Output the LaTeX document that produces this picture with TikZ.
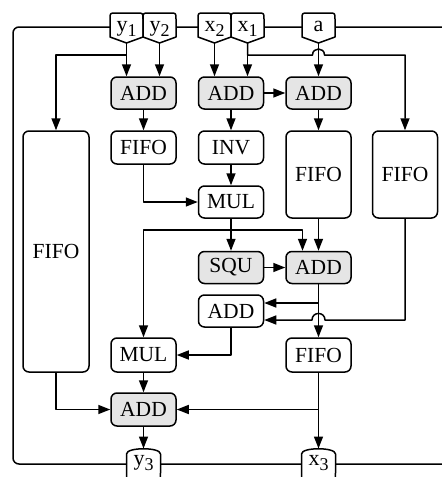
\documentclass[tikz,border=0pt]{standalone}
\usepackage{fontspec}
\setmainfont{Liberation Serif}
\usepackage{tikz}
\usetikzlibrary{arrows.meta,calc}
\tikzset{
  wire/.style={line width=1.5pt,line join=round},
  arr/.style={wire,-{Triangle[length=12pt,width=9pt]}},
  blk/.style={rectangle,rounded corners=6pt,draw,line width=1.5pt,
    minimum width=65pt,minimum height=32pt,inner sep=0pt,
    font=\fontsize{21.5}{23}\selectfont},
  opblk/.style={blk,fill=gray!20},
  plbl/.style={inner sep=0pt,anchor=base,font=\fontsize{22}{24}\selectfont},
}
\newcommand\portsub[1]{\raisebox{-5.5pt}{\fontsize{18}{18}\selectfont #1}}
% input port on the top edge: name, x, label
\newcommand\portin[3]{%
  \draw[wire,fill=white] (#2,43) -- (#2-16.5,37) -- (#2-16.5,19)
    .. controls (#2-16.5,13) .. (#2-10.5,13) -- (#2+10.5,13)
    .. controls (#2+16.5,13) .. (#2+16.5,19) -- (#2+16.5,37) -- cycle;
  \node[plbl] (#1-t) at (#2,31) {#3};
  \coordinate (#1) at (#2,43);}
% output port on the bottom edge: name, x, label
\newcommand\portout[3]{%
  \draw[wire,fill=white] (#2-13,480) .. controls (#2-17,479) .. (#2-17,473)
    -- (#2-17,454) .. controls (#2-17,447) and (#2+17,447) .. (#2+17,454)
    -- (#2+17,473) .. controls (#2+17,479) .. (#2+13,480);
  \node[plbl] (#1-t) at (#2,465) {#3};
  \coordinate (#1) at (#2,448.5);}

\begin{document}
\begin{tikzpicture}[x=1pt,y=-1pt]
\useasboundingbox (0,0) rectangle (442,477);

% frame
\draw[wire,rounded corners=6pt] (452,27) -- (13,27) -- (13,464) -- (452,464);

% ports
\portin{y1}{126.5}{y\portsub{1}}
\portin{y2}{159.5}{y\portsub{2}}
\portin{x2}{214.5}{x\portsub{2}}
\portin{x1}{247.5}{x\portsub{1}}
\portin{a}{318.5}{a}
\portout{y3}{143.5}{y\portsub{3}}
\portout{x3}{318.5}{x\portsub{3}}

% blocks
\node[opblk] (add1) at (143.5,93) {ADD};
\node[opblk] (add2) at (231,93) {ADD};
\node[opblk] (add3) at (318.5,93) {ADD};
\node[blk,minimum width=66pt,minimum height=241pt] (fifoL) at (56,251.5) {FIFO};
\node[blk,minimum height=33pt] (fifo1) at (143.5,147.5) {FIFO};
\node[blk,minimum height=33pt] (inv) at (231,147.5) {INV};
\node[blk,minimum height=87pt] (fifo3) at (318.5,174.5) {FIFO};
\node[blk,minimum height=87pt] (fifo4) at (405,174.5) {FIFO};
\node[blk] (mul1) at (231,202) {MUL};
\node[opblk] (squ) at (231,267.5) {SQU};
\node[opblk] (add4) at (318.5,267.5) {ADD};
\node[blk] (add5) at (231,311) {ADD};
\node[blk,minimum height=34pt] (mul2) at (143.5,355) {MUL};
\node[blk,minimum height=34pt] (fifo5) at (318.5,355) {FIFO};
\node[opblk,minimum height=33pt] (add6) at (143.5,409.5) {ADD};

% helper points
\coordinate (hopA) at (318.5,55);
\coordinate (j1) at ([yshift=8pt]add5.east);
\coordinate (j2) at ([yshift=-9pt]add5.east);
\coordinate (hopB) at (add4.south |- j2);

% wires
\draw[arr] (y1) -- (y1 |- add1.north);
\draw[arr] (y1) -- ++(0,12) -| (fifoL.north);
\draw[arr] (y2) -- (y2 |- add1.north);
\draw[arr] (x2) -- (x2 |- add2.north);
\draw[arr] (x1) -- (x1 |- add2.north);
\draw[arr] (x1) -- ++(0,12) -- ([xshift=-6pt]hopA)
  .. controls ([xshift=-6pt,yshift=8pt]hopA) and ([xshift=6pt,yshift=8pt]hopA)
  .. ([xshift=6pt]hopA) -| (fifo4.north);
\draw[arr] (a) -- (a |- add3.north);
\draw[arr] (add2) -- (add3);
\draw[arr] (add1) -- (fifo1);
\draw[arr] (add2) -- (inv);
\draw[arr] (add3) -- (fifo3);
\draw[arr] (inv) -- (mul1);
\draw[arr] (fifo1.south) |- (mul1.west);
\draw[arr] (mul1) -- (squ);
\draw[arr] (mul1.south) ++(0,11) -| (mul2.north);
\draw[arr] (mul1.south) ++(0,11) -| ([xshift=-16pt]add4.north);
\draw[arr] (fifo3) -- (add4);
\draw[arr] (squ) -- (add4);
\draw[arr] (add4) -- (fifo5);
\draw[arr] (j1 -| add4.south) -- (j1);
\draw[arr] (fifo4.south) |- ([xshift=6.5pt]hopB)
  .. controls ([xshift=6.5pt,yshift=8.7pt]hopB) and ([xshift=-6.5pt,yshift=8.7pt]hopB)
  .. ([xshift=-6.5pt]hopB) -- (j2);
\draw[arr] (add5.south) |- (mul2.east);
\draw[arr] (mul2) -- (add6);
\draw[arr] (fifoL.south) |- (add6.west);
\draw[arr] (fifo5) -- (x3);
\draw[arr] (fifo5.south |- add6.east) -- (add6.east);
\draw[arr] (add6) -- (y3);
\end{tikzpicture}
\end{document}
